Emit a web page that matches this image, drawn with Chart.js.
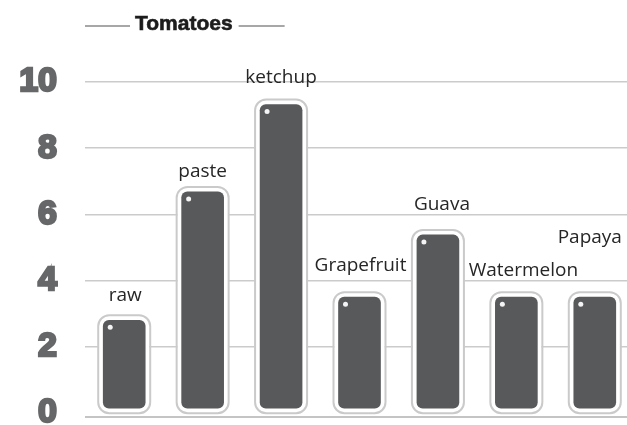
<!DOCTYPE html>
<html>
<head>
<meta charset="utf-8">
<script src="https://cdn.jsdelivr.net/npm/chart.js@4/dist/chart.umd.min.js"></script>
<style>
  html, body { margin: 0; padding: 0; background: #fff; overflow: hidden; }
  #wrap { width: 627px; height: 425px; overflow: hidden; }
  canvas { display: block; }
</style>
</head>
<body>
<div id="wrap"><canvas id="chart" width="634" height="425"></canvas></div>
<script>
// Chart data
const categories = ['raw', 'paste', 'ketchup', 'Grapefruit', 'Guava', 'Watermelon', 'Papaya'];
const values = [2.92, 6.8, 9.44, 3.62, 5.5, 3.62, 3.62];
const yTicks = [0, 2, 4, 6, 8, 10];
const chartTitle = 'Tomatoes';

// label placement above each bar (px), kept apart from the data
const labelLift = [21, 16, 23, 28, 26, 23, 56];
const labelShift = [1, 0, 0, 1, 4, 7, -5];

// Title with a short rule on each side
const titlePlugin = {
    id: 'titleRules',
    afterDraw(chart) {
        const ctx = chart.ctx;
        const left = chart.chartArea.left;
        ctx.save();
        ctx.font = 'bold 21px "Liberation Sans", Arial, sans-serif';
        ctx.fillStyle = '#1c1c1c';
        ctx.strokeStyle = '#1c1c1c';
        ctx.lineWidth = 0.6;
        ctx.textBaseline = 'middle';
        const textX = left + 50;
        ctx.fillText(chartTitle, textX, 24);
        ctx.strokeText(chartTitle, textX, 24);
        const w = ctx.measureText(chartTitle).width;
        ctx.strokeStyle = '#8a8a8a';
        ctx.lineWidth = 1.5;
        ctx.beginPath();
        ctx.moveTo(left, 26);
        ctx.lineTo(textX - 5, 26);
        ctx.moveTo(textX + w + 6, 26);
        ctx.lineTo(textX + w + 52, 26);
        ctx.stroke();
        ctx.restore();
    }
};

// Baseline below the bars
const baselinePlugin = {
    id: 'baseline',
    beforeDatasetsDraw(chart) {
        const ctx = chart.ctx;
        const area = chart.chartArea;
        ctx.save();
        ctx.strokeStyle = '#c4c4c4';
        ctx.lineWidth = 2;
        ctx.beginPath();
        ctx.moveTo(area.left, area.bottom + 4);
        ctx.lineTo(area.right, area.bottom + 4);
        ctx.stroke();
        ctx.restore();
    }
};

// Gray ring, shine dot and category label for every bar
const barDecor = {
    id: 'barDecor',
    afterDatasetsDraw(chart) {
        const ctx = chart.ctx;
        const meta = chart.getDatasetMeta(0);
        ctx.save();
        meta.data.forEach((bar, i) => {
            const p = bar.getProps(['x', 'y', 'base', 'width'], true);
            const l = p.x - p.width / 2 - 1;
            const t = p.y - 1;
            const w = p.width + 2;
            const h = p.base - p.y + 2;
            ctx.strokeStyle = '#cacaca';
            ctx.lineWidth = 2;
            ctx.beginPath();
            ctx.roundRect(l, t, w, h, 11);
            ctx.stroke();

            // little white dot in the top-left corner
            ctx.fillStyle = '#f4f4f4';
            ctx.beginPath();
            ctx.arc(p.x - p.width / 2 + 11, p.y + 11, 2.5, 0, Math.PI * 2);
            ctx.fill();

            // label
            ctx.font = '19px "Open Sans", sans-serif';
            ctx.fillStyle = '#262626';
            ctx.textAlign = 'center';
            ctx.textBaseline = 'middle';
            ctx.fillText(categories[i], p.x + labelShift[i], p.y - labelLift[i]);
        });
        ctx.restore();
    }
};

const ctx = document.getElementById('chart').getContext('2d');
const chart = new Chart(ctx, {
    type: 'bar',
    data: {
        labels: categories,
        datasets: [{
            data: values,
            backgroundColor: '#58595b',
            borderColor: '#ffffff',
            borderWidth: 4,
            borderSkipped: false,
            borderRadius: 10,
            barThickness: 50
        }]
    },
    options: {
        responsive: false,
        animation: false,
        devicePixelRatio: 1,
        layout: {
            padding: { top: 82, bottom: 12, left: 0, right: 0 }
        },
        plugins: {
            legend: { display: false },
            title: { display: false },
            tooltip: { enabled: false }
        },
        scales: {
            x: {
                display: false
            },
            y: {
                min: 0,
                max: 10,
                afterBuildTicks: scale => {
                    scale.ticks = yTicks.map(v => ({ value: v }));
                },
                afterFit: scale => {
                    scale.width = 85;
                    scale.paddingTop = 0;
                    scale.paddingBottom = 0;
                },
                grid: {
                    // zero line is replaced by the baseline a few px lower
                    color: c => (c.tick && c.tick.value === 0 ? 'rgba(0,0,0,0)' : '#cbcbcb'),
                    lineWidth: 1.5,
                    drawTicks: false
                },
                border: { display: false },
                ticks: {
                    padding: 28,
                    color: '#666769',
                    textStrokeColor: '#666769',
                    textStrokeWidth: 2.5,
                    font: { family: '"Liberation Sans", Arial, sans-serif', size: 34, weight: 'bold' }
                }
            }
        }
    },
    plugins: [titlePlugin, baselinePlugin, barDecor]
});
</script>
</body>
</html>
